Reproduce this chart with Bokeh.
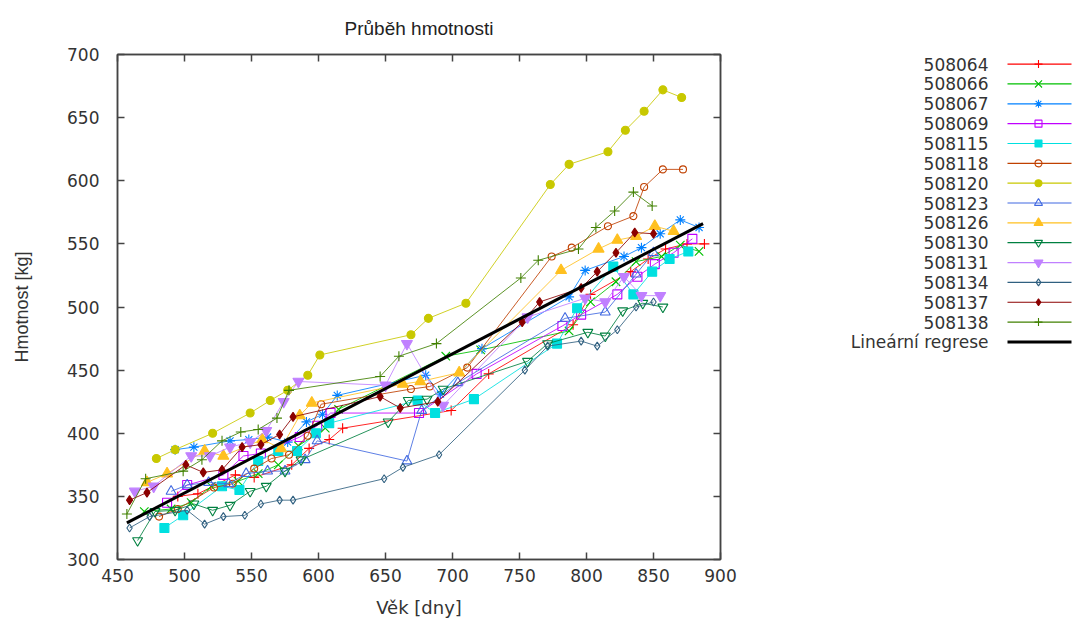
from bokeh.plotting import figure
from bokeh.models import Range1d, LinearAxis, FixedTicker
from bokeh.layouts import row
from bokeh.embed import file_html
from bokeh.resources import INLINE
from bokeh.core.properties import value

# ---------------- data (age in days, weight in kg) ----------------
names = ["508064", "508066", "508067", "508069", "508115", "508118", "508120",
         "508123", "508126", "508130", "508131", "508134", "508137", "508138"]

x_508064 = [495, 510, 538, 552, 580, 593, 608, 618, 699, 727, 790, 803, 833, 846, 859, 875, 888]
y_508064 = [350, 352, 367, 365, 375, 388, 395, 404, 418, 447, 486, 510, 528, 538, 546, 550, 550]

x_508066 = [470, 490, 505, 520, 540, 555, 570, 585, 605, 615, 695, 721, 787, 803, 822, 837, 856, 870, 884]
y_508066 = [338, 340, 345, 358, 362, 368, 375, 390, 404, 419, 461, 466, 481, 504, 520, 536, 540, 549, 544]

x_508067 = [493, 507, 534, 548, 562, 577, 591, 603, 614, 680, 691, 722, 787, 799, 828, 841, 855, 870, 884]
y_508067 = [387, 389, 394, 395, 397, 393, 409, 415, 430, 446, 431, 467, 508, 529, 540, 547, 558, 569, 563]

x_508069 = [487, 502, 529, 544, 557, 586, 599, 609, 675, 718, 782, 796, 823, 838, 851, 865, 879]
y_508069 = [345, 359, 367, 382, 384, 397, 406, 416, 416, 447, 485, 494, 510, 524, 534, 543, 554]

x_508115 = [485, 499, 528, 541, 555, 570, 584, 598, 608, 674, 687, 716, 778, 793, 820, 835, 849, 862, 876]
y_508115 = [325, 335, 358, 355, 378, 386, 386, 400, 408, 426, 416, 427, 471, 499, 532, 510, 528, 538, 544]

x_508118 = [481, 495, 522, 536, 552, 565, 578, 592, 602, 669, 683, 711, 774, 789, 816, 835, 843, 857, 872]
y_508118 = [334, 340, 357, 360, 372, 380, 383, 398, 423, 435, 437, 452, 540, 547, 564, 572, 595, 609, 609]

x_508120 = [479, 493, 521, 549, 564, 577, 592, 601, 669, 682, 710, 773, 787, 816, 829, 843, 857, 871]
y_508120 = [380, 387, 400, 416, 426, 434, 446, 462, 478, 491, 503, 597, 613, 623, 640, 655, 672, 666]

x_508123 = [490, 502, 518, 533, 546, 562, 575, 590, 599, 666, 677, 704, 784, 814, 837, 850]
y_508123 = [354, 359, 361, 360, 368, 370, 370, 379, 394, 378, 418, 440, 491, 496, 526, 543]

x_508126 = [472, 487, 515, 529, 558, 572, 586, 595, 663, 676, 705, 781, 809, 823, 837, 851, 865]
y_508126 = [361, 368, 386, 382, 395, 388, 414, 424, 439, 441, 448, 529, 546, 553, 556, 564, 560]

x_508130 = [465, 478, 493, 507, 521, 534, 549, 561, 575, 587, 652, 667, 681, 693, 756, 771, 801, 814, 827, 842, 857]
y_508130 = [315, 338, 339, 344, 339, 343, 354, 358, 370, 379, 409, 426, 427, 435, 457, 471, 480, 477, 497, 503, 500]

x_508131 = [463, 477, 505, 519, 534, 549, 561, 574, 585, 650, 666, 693, 756, 799, 814, 828, 841, 855]
y_508131 = [354, 358, 382, 382, 389, 393, 402, 425, 441, 438, 471, 422, 492, 507, 504, 524, 509, 509]

x_508134 = [459, 474, 502, 515, 529, 545, 557, 571, 581, 649, 663, 690, 754, 771, 796, 808, 823, 837, 850]
y_508134 = [325, 334, 339, 328, 334, 335, 344, 347, 347, 364, 373, 383, 450, 469, 473, 469, 482, 500, 504]

x_508137 = [459, 472, 501, 514, 528, 543, 557, 571, 581, 646, 661, 689, 752, 765, 796, 808, 822, 836, 850]
y_508137 = [347, 353, 375, 369, 371, 389, 391, 399, 413, 429, 420, 425, 488, 504, 515, 528, 543, 559, 558]

x_508138 = [457, 471, 499, 513, 528, 542, 555, 569, 578, 646, 660, 688, 751, 764, 794, 807, 821, 835, 849]
y_508138 = [336, 364, 370, 379, 394, 401, 403, 412, 434, 445, 461, 471, 523, 537, 546, 563, 576, 591, 580]

reg_x = [457, 887]
reg_y = [329, 566]

x_ticks = [450, 500, 550, 600, 650, 700, 750, 800, 850, 900]
y_ticks = [300, 350, 400, 450, 500, 550, 600, 650, 700]

xs = [x_508064, x_508066, x_508067, x_508069, x_508115, x_508118, x_508120,
      x_508123, x_508126, x_508130, x_508131, x_508134, x_508137, x_508138]
ys = [y_508064, y_508066, y_508067, y_508069, y_508115, y_508118, y_508120,
      y_508123, y_508126, y_508130, y_508131, y_508134, y_508137, y_508138]

# ---------------- styles (gnuplot default linetypes) ----------------
colors = ["#ff0000", "#00c000", "#0080ff", "#c000ff", "#00e0e0", "#c04000", "#c8c800",
          "#4169e1", "#ffc020", "#008040", "#c080ff", "#306080", "#8b0000", "#408000"]
markers = ["cross", "x", "asterisk", "square", "square", "circle", "circle",
           "triangle", "triangle", "inverted_triangle", "inverted_triangle",
           "diamond", "diamond", "cross"]
filled = [False, False, False, False, True, False, True,
          False, True, False, True, False, True, False]
sizes = [10, 12, 10, 9, 9, 7, 8, 10, 11, 10, 11, 8, 9, 10]

TICK_FONT = value("DejaVu Sans")

# page geometry (page has no margin): frame 117..720 x, 53..562 y
W_MAIN, H = 828, 620
p = figure(width=W_MAIN, height=H, output_backend="svg", toolbar_location=None,
           x_range=Range1d(450, 900), y_range=Range1d(300, 700),
           min_border_left=117, min_border_right=108, min_border_top=53, min_border_bottom=58,
           title="Průběh hmotnosti")
p.title.align = "center"
p.title.text_font = "Liberation Sans"
p.title.text_font_size = "19px"
p.title.text_font_style = "normal"
p.title.text_color = "#222222"
p.title.standoff = 31

p.xgrid.visible = False
p.ygrid.visible = False
p.outline_line_color = "#444444"
p.outline_line_width = 1.5

for ax, ticks in ((p.xaxis[0], x_ticks), (p.yaxis[0], y_ticks)):
    ax.ticker = FixedTicker(ticks=ticks)
    ax.major_tick_in = 7
    ax.major_tick_out = 0
    ax.minor_tick_line_color = None
    ax.axis_line_color = "#444444"
    ax.axis_line_width = 1.5
    ax.major_tick_line_color = "#444444"
    ax.major_tick_line_width = 1.5
    ax.major_label_text_font = "DejaVu Sans"
    ax.major_label_text_font_size = "17px"
    ax.major_label_text_color = "#333333"

p.xaxis[0].major_label_standoff = 9
p.yaxis[0].major_label_standoff = 18
p.xaxis[0].axis_label = "Věk [dny]"
p.xaxis[0].axis_label_text_font = "DejaVu Sans"
p.xaxis[0].axis_label_text_font_size = "18px"
p.xaxis[0].axis_label_text_font_style = "normal"
p.xaxis[0].axis_label_text_color = "#333333"
p.xaxis[0].axis_label_standoff = 12
p.yaxis[0].axis_label = "Hmotnost [kg]"
p.yaxis[0].axis_label_text_font = "Liberation Sans"
p.yaxis[0].axis_label_text_font_size = "18px"
p.yaxis[0].axis_label_text_font_style = "normal"
p.yaxis[0].axis_label_text_color = "#333333"
p.yaxis[0].axis_label_standoff = 32

for loc, ticks in (("above", x_ticks), ("right", y_ticks)):
    ax = LinearAxis(ticker=FixedTicker(ticks=ticks), major_tick_in=7, major_tick_out=0,
                    minor_tick_line_color=None, major_label_text_color=None,
                    major_label_text_font_size="1px",
                    axis_line_color="#444444", axis_line_width=1.5,
                    major_tick_line_color="#444444", major_tick_line_width=1.5)
    p.add_layout(ax, loc)

for xv, yv, c, m, f, s in zip(xs, ys, colors, markers, filled, sizes):
    p.line(xv, yv, line_color=c, line_width=1, line_alpha=0.85)
    p.scatter(xv, yv, marker=m, size=s, line_color=c, line_width=1.1,
              fill_color=c if f else None, fill_alpha=1.0)

p.line(reg_x, reg_y, line_color="black", line_width=3)

# ---------------- legend panel ----------------
# the row aligns frames vertically, so y is given in page pixels (53..562)
W_LEG = 245
lg = figure(width=W_LEG, height=H, output_backend="svg", toolbar_location=None,
            x_range=Range1d(0, W_LEG), y_range=Range1d(562, 53),
            min_border=0, x_axis_location=None, y_axis_location=None)
lg.outline_line_color = None
lg.xgrid.visible = False
lg.ygrid.visible = False

row_y = [62.7 + 20 * i for i in range(len(names))]
lg.text(x=[160] * len(names), y=row_y, text=names, text_align="right",
        text_baseline="middle", text_font=TICK_FONT, text_font_size="17px",
        text_color="#333333")
for yy, c, m, f, s in zip(row_y, colors, markers, filled, sizes):
    lg.line([179, 243], [yy, yy], line_color=c, line_width=1.2)
    lg.scatter([210], [yy], marker=m, size=max(s - 2, 7), line_color=c, line_width=1.1,
               fill_color=c if f else None)
reg_row = 62.7 + 20 * len(names)
lg.text(x=[160], y=[reg_row], text=["Lineární regrese"], text_align="right",
        text_baseline="middle", text_font=TICK_FONT, text_font_size="17px",
        text_color="#333333")
lg.line([179, 243], [reg_row, reg_row], line_color="black", line_width=3)

layout = row(p, lg)
open("out.html", "w").write(file_html(layout, INLINE))
